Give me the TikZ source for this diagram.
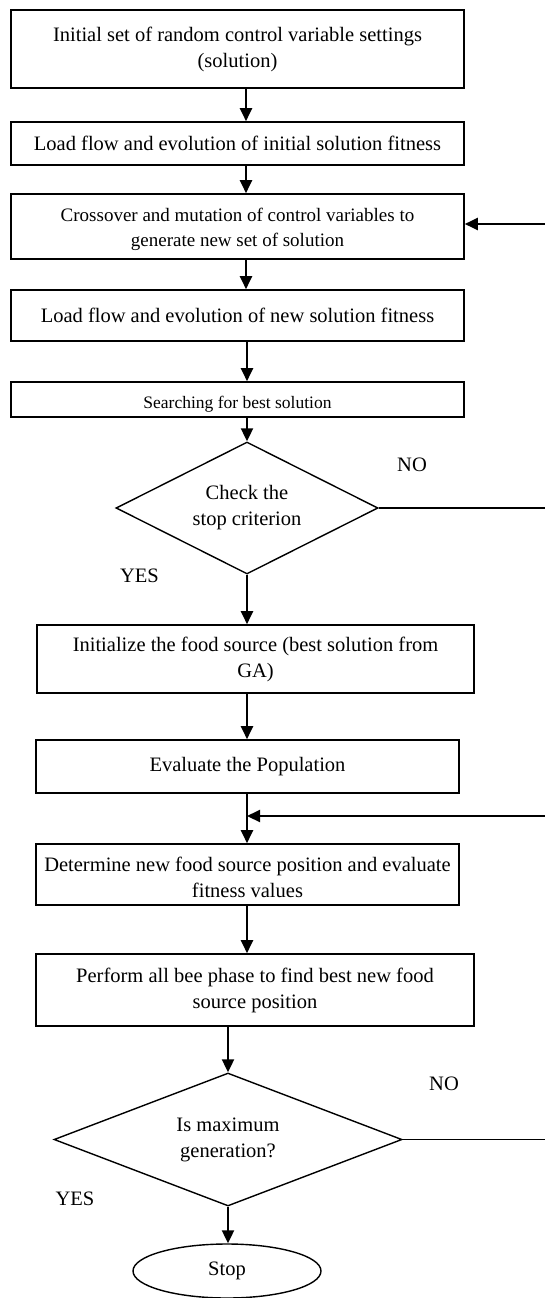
\documentclass[tikz,border=0pt]{standalone}
\usepackage{fontspec}
\setmainfont{Liberation Serif}
\usetikzlibrary{shapes.geometric, arrows.meta}
\newcommand{\flowfont}{\fontsize{20.5}{26}\selectfont}
\newcommand{\lowtext}[2]{\raisebox{-#1}[\height][\depth]{#2}}
\tikzset{
    block/.style={rectangle, draw=black, line width=1.6pt, fill=white, align=center, font=\flowfont, inner sep=2pt},
    decision/.style={diamond, draw=black, line width=1.4pt, align=center, font=\flowfont, inner sep=0pt},
    terminal/.style={ellipse, draw=black, line width=1.4pt, font=\flowfont, inner sep=0pt},
    tag/.style={font=\flowfont, inner sep=0pt},
    arrow/.style={line width=2.1pt, -{Triangle[length=13pt,width=12pt]}},
    link/.style={line width=1.4pt}
}

\begin{document}
\begin{tikzpicture}[x=1pt, y=-1pt]
    \useasboundingbox (0,0) rectangle (545,1298);

    % genetic algorithm part
    \node (init) [block, minimum width=453pt, minimum height=78pt] at (237.5,49) {Initial set of random control variable settings\\(solution)};
    \node (loadinit) [block, minimum width=453pt, minimum height=43pt] at (237.5,143.5) {Load flow and evolution of initial solution fitness};
    \node (cross) [block, minimum width=453pt, minimum height=65pt, font=\fontsize{19}{25}\selectfont] at (237.5,226.5) {\lowtext{3pt}{Crossover and mutation of control variables to}\\\lowtext{3pt}{generate new set of solution}};
    \node (loadnew) [block, minimum width=453pt, minimum height=51pt] at (237.5,315.5) {Load flow and evolution of new solution fitness};
    \node (search) [block, minimum width=453pt, minimum height=35pt, font=\fontsize{17.5}{22}\selectfont] at (237.5,399.5) {\lowtext{5pt}{Searching for best solution}};
    \node (stopcheck) [decision, minimum width=262pt, minimum height=132pt, aspect=1.98] at (247,508) {Check the\\stop criterion};

    % bee colony part
    \node (food) [block, minimum width=437pt, minimum height=68pt] at (255.5,659) {Initialize the food source (best solution from\\GA)};
    \node (evalpop) [block, minimum width=423pt, minimum height=53pt] at (247.5,766.5) {Evaluate the Population};
    \node (newpos) [block, minimum width=423pt, minimum height=61pt] at (247.5,874.5) {\lowtext{3pt}{Determine new food source position and evaluate}\\\lowtext{3pt}{fitness values}};
    \node (beephase) [block, minimum width=438pt, minimum height=72pt] at (255,990) {Perform all bee phase to find best new food\\source position};
    \node (maxgen) [decision, minimum width=348pt, minimum height=133pt, aspect=2.6] at (228,1139.5) {Is maximum\\generation?};
    \node (stop) [terminal, minimum width=188pt, minimum height=54pt] at (227,1271) {Stop};

    \node (noA) [tag] at (412,465) {NO};
    \node (yesA) [tag] at (139.5,576) {YES};
    \node (noB) [tag] at (444,1084) {NO};
    \node (yesB) [tag] at (75,1199) {YES};

    \coordinate (spine) at (246,0);
    \coordinate (edgeA) at (545,508);
    \coordinate (backA) at (545,224);
    \coordinate (edgeB) at (545,1139.5);
    \coordinate (backB) at (545,816);

    \draw [arrow] (init.south -| spine) -- (loadinit.north -| spine);
    \draw [arrow] (loadinit.south -| spine) -- (cross.north -| spine);
    \draw [arrow] (cross.south -| spine) -- (loadnew.north -| spine);
    \draw [arrow] (loadnew.south -| stopcheck.north) -- (search.north -| stopcheck.north);
    \draw [arrow] (search.south -| stopcheck.north) -- (stopcheck.north);
    \draw [arrow] (stopcheck.south) -- (food.north -| stopcheck.south);
    \draw [arrow] (food.south -| stopcheck.south) -- (evalpop.north -| stopcheck.south);
    \draw [arrow] (evalpop.south -| stopcheck.south) -- (newpos.north -| stopcheck.south);
    \draw [arrow] (newpos.south -| stopcheck.south) -- (beephase.north -| stopcheck.south);
    \draw [arrow] (beephase.south -| maxgen.north) -- (maxgen.north);
    \draw [arrow] (maxgen.south) -- (stop.north -| maxgen.south);

    % loops leave the page on the right
    \draw [link] (stopcheck.east) -- (edgeA);
    \draw [arrow] (backA) -- (cross.east |- backA);
    \draw [link] (maxgen.east) -- (edgeB);
    \draw [arrow] (backB) -- (backB -| stopcheck.south);
\end{tikzpicture}
\end{document}
